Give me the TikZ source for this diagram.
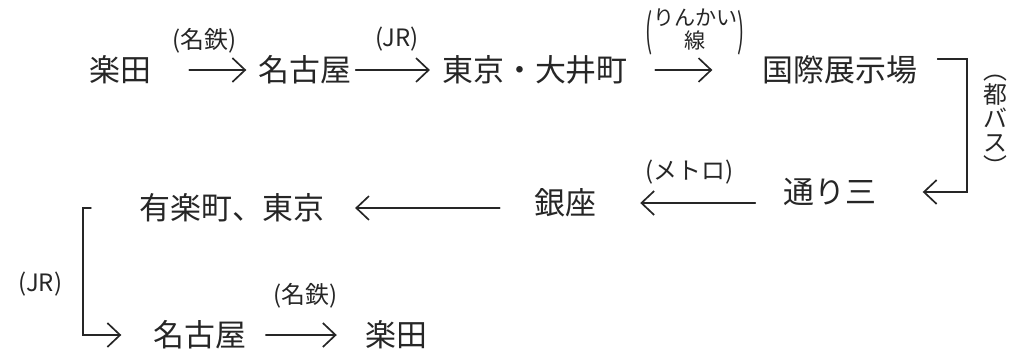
\documentclass[tikz,border=0pt]{standalone}
\usepackage{fontspec}
\newfontfamily\jpfont{Noto Sans CJK JP}
\usetikzlibrary{arrows.meta}

\colorlet{ink}{black!85}
\newcommand{\tallparen}[1]{\raisebox{-0.5em}{\scalebox{1}[2.1]{#1}}}

\tikzset{
	station/.style={font=\jpfont\fontsize{22}{24}\selectfont, text=ink, inner sep=0pt},
	via/.style={font=\jpfont\fontsize{17}{17}\selectfont, text=ink, inner sep=0pt, align=center},
	ride/.style={draw=ink, line width=1.2pt, line cap=round, -{Straight Barb[length=9pt, width=17pt, line width=1.2pt]}},
}

\begin{document}
\begin{tikzpicture}[x=0.025cm, y=-0.025cm]
\useasboundingbox (0,0) rectangle (1013,355);

\pgfmathsetmacro{\rowA}{70}
\pgfmathsetmacro{\rowC}{335}

% outbound
\node[station] (rakutaA) at (120,\rowA) {楽田};
\node[station] (nagoyaA) at (305,\rowA) {名古屋};
\node[station] (oimachi) at (535,\rowA) {東京・大井町};
\node[station] (expo) at (840,\rowA) {国際展示場};

% way back
\node[station] (toori) at (830,192) {通り三};
\node[station] (ginza) at (565,203) {銀座};
\node[station] (yuraku) at (232,208) {有楽町、東京};
\node[station] (nagoyaB) at (200,\rowC) {名古屋};
\node[station] (rakutaB) at (396,\rowC) {楽田};

\coordinate (buscorner) at (967,59);
\coordinate (jrcorner) at (83,208);

\draw[ride, shorten <=0.95cm, shorten >=0.3cm] (rakutaA) -- (nagoyaA) node[via, midway, above=0.4cm] {(名鉄)};
\draw[ride, shorten <=0.1cm, shorten >=0.3cm] (nagoyaA) -- (oimachi) node[via, midway, above=0.45cm] {(JR)};
\draw[ride, shorten <=0.68cm, shorten >=1.25cm] (oimachi) -- (expo) node[via, midway, above=0.35cm] {\fontsize{15}{15}\selectfont\renewcommand{\arraystretch}{0.75}\tallparen{(}\begin{tabular}{@{}c@{}}りんかい\\線\end{tabular}\tallparen{)}};

\draw[ride, shorten <=0.5cm, shorten >=1.15cm] (expo.east |- buscorner) -- (buscorner) |- (toori.east) node[via, pos=0.25, right=0.4cm] {︵\\都\\バ\\ス\\︶};
\draw[ride, shorten <=0.7cm, shorten >=1.1cm] (toori.west |- ginza) -- (ginza.east) node[via, midway, above=0.45cm] {(メトロ)};
\draw[ride, shorten <=0.85cm, shorten >=0.75cm] (ginza.west |- yuraku) -- (yuraku.east);

\draw[ride, shorten <=1.2cm, shorten >=0.8cm] (yuraku.west) -- (jrcorner) |- (nagoyaB) node[via, pos=0.3, left=0.5cm] {(JR)};
\draw[ride, shorten <=0.48cm, shorten >=0.7cm] (nagoyaB) -- (rakutaB) node[via, midway, above=0.65cm] {(名鉄)};
\end{tikzpicture}
\end{document}
